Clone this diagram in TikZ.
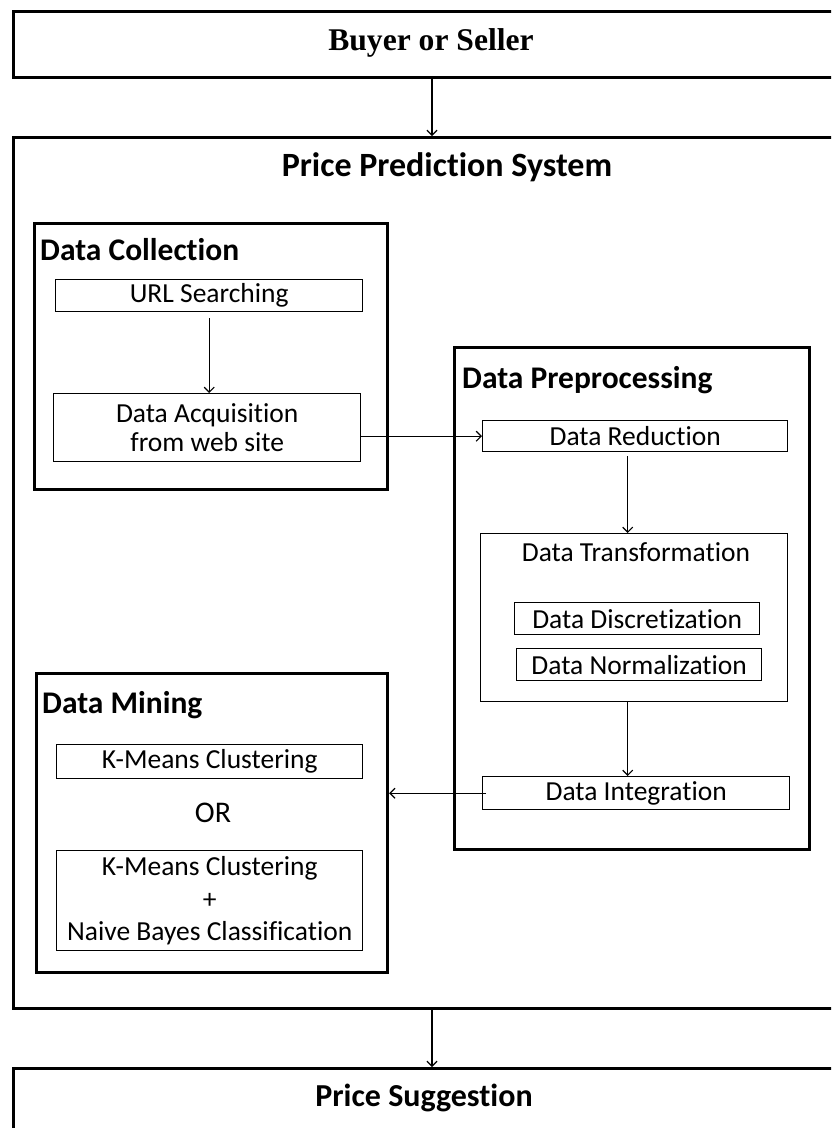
\documentclass[tikz,border=0pt]{standalone}
\usepackage{fontspec}
\setmainfont{Carlito}[Ligatures=NoCommon]
\newfontfamily\headserif{Liberation Serif}
\usetikzlibrary{arrows.meta}
\begin{document}
\begin{tikzpicture}[x=1pt,y=-1pt,
  frame/.style={draw, line width=3.4pt, anchor=north west, inner sep=0pt},
  stage/.style={draw, line width=3.2pt, anchor=north west, inner sep=0pt},
  task/.style={draw, line width=1.4pt, anchor=north west, inner sep=0pt, align=center,
    font=\fontsize{27.5}{29}\selectfont},
  heading/.style={anchor=west, inner sep=0pt, font=\bfseries\fontsize{31.5}{34}\selectfont},
  title/.style={inner sep=0pt, font=\bfseries\fontsize{34}{38}\selectfont},
  plain/.style={inner sep=0pt, font=\fontsize{27.5}{29}\selectfont},
  flow/.style={line width=1.2pt, -{Straight Barb[length=5pt,width=10pt]}},
]
\useasboundingbox (0,0) rectangle (831,1128);
\begin{scope}
\clip (0,0) rectangle (831,1128);

% outer frames (they run off the right and bottom edges)
\node[frame, minimum width=840pt, minimum height=66pt] (buyer) at (12,10) {};
\node[inner sep=0pt, font=\headserif\bfseries\fontsize{31.6}{34}\selectfont] (buyerlbl) at (431,43) {Buyer or Seller};

\node[frame, minimum width=840pt, minimum height=871pt] (sys) at (12,136) {};
\node[title] (systitle) at (447,167) {Price Prediction System};

\node[frame, minimum width=840pt, minimum height=100pt] (sugg) at (12,1067) {};
\node[title, font=\bfseries\fontsize{32}{36}\selectfont] (suggtitle) at (424,1098) {Price Suggestion};

% data collection
\node[stage, minimum width=353pt, minimum height=266pt] (coll) at (33,222) {};
\node[heading] (colltitle) at (40,250) {Data Collection};
\node[task, minimum width=307pt, minimum height=32pt] (url) at (55,279) {URL Searching};
\node[task, minimum width=307pt, minimum height=68pt] (acq) at (53,393) {Data Acquisition\\from web site};

% data preprocessing
\node[stage, minimum width=355pt, minimum height=502pt] (prep) at (453,346) {};
\node[heading] (preptitle) at (462,380) {Data Preprocessing};
\node[task, minimum width=305pt, minimum height=31pt] (red) at (482,420) {Data Reduction};
\node[task, minimum width=307pt, minimum height=168pt] (trans) at (480,533) {};
\node[plain] (transtitle) at (636,552) {Data Transformation};
\node[task, minimum width=245pt, minimum height=32pt] (disc) at (514,602) {Data Discretization};
\node[task, minimum width=245pt, minimum height=32pt] (norm) at (516,648) {Data Normalization};
\node[task, minimum width=307pt, minimum height=33pt] (integ) at (482,776) {Data Integration};

% data mining
\node[stage, minimum width=351pt, minimum height=299pt] (mining) at (35,672) {};
\node[heading] (miningtitle) at (42,705) {Data Mining};
\node[task, minimum width=306pt, minimum height=34pt] (km) at (56,744) {K-Means Clustering};
\node[plain, font=\fontsize{30}{32}\selectfont] (or) at (213,813) {OR};
\node[task, minimum width=306pt, minimum height=100pt, font=\fontsize{27.5}{32.5}\selectfont] (kmnb) at (56,850)
  {K-Means Clustering\\+\\Naive Bayes Classification};

% connectors
\draw[flow] ([xshift=420pt]buyer.south west) -- ([xshift=420pt]sys.north west);
\draw[flow] ([xshift=420pt]sys.south west) -- ([xshift=420pt]sugg.north west);
\draw[flow, shorten <=6pt] (url.south) -- (url.south |- acq.north);
\draw[flow] (acq.east |- red.west) -- (red.west);
\draw[flow, shorten <=4pt] ([xshift=-7.5pt]red.south) -- ([xshift=-7.5pt]red.south |- trans.north);
\draw[flow] ([xshift=-6.5pt]trans.south) -- ([xshift=-6.5pt]trans.south |- integ.north);
\draw[flow] ([xshift=4pt]integ.west) -- (mining.east |- integ.west);
\end{scope}
\end{tikzpicture}
\end{document}
